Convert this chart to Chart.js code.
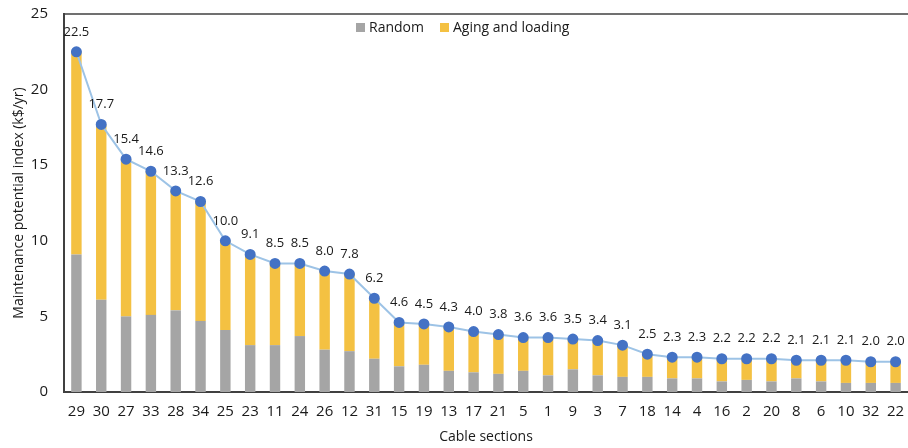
<!DOCTYPE html>
<html>
<head>
<meta charset="utf-8">
<script src="https://cdn.jsdelivr.net/npm/chart.js@4/dist/chart.umd.min.js"></script>
<style>
    html, body { margin: 0; padding: 0; background: #fff; }
    #wrap { width: 908px; height: 448px; }
</style>
</head>
<body>
<div id="wrap"><canvas id="mpiChart"></canvas></div>
<script>
// cable sections, sorted by total index
const sections = ['29', '30', '27', '33', '28', '34', '25', '23', '11', '24', '26', '12', '31', '15', '19', '13', '17',
    '21', '5', '1', '9', '3', '7', '18', '14', '4', '16', '2', '20', '8', '6', '10', '32', '22'];

// total maintenance potential index (k$/yr)
const totals = [22.5, 17.7, 15.4, 14.6, 13.3, 12.6, 10.0, 9.1, 8.5, 8.5, 8.0, 7.8, 6.2, 4.6, 4.5, 4.3, 4.0,
    3.8, 3.6, 3.6, 3.5, 3.4, 3.1, 2.5, 2.3, 2.3, 2.2, 2.2, 2.2, 2.1, 2.1, 2.1, 2.0, 2.0];

// random failure part
const randomPart = [9.1, 6.1, 5.0, 5.1, 5.4, 4.7, 4.1, 3.1, 3.1, 3.7, 2.8, 2.7, 2.2, 1.7, 1.8, 1.4, 1.3,
    1.2, 1.4, 1.1, 1.5, 1.1, 1.0, 1.0, 0.9, 0.9, 0.7, 0.8, 0.7, 0.9, 0.7, 0.6, 0.6, 0.6];

// aging and loading = total - random
const agingPart = totals.map((t, i) => +(t - randomPart[i]).toFixed(1));

const yTicks = [0, 5, 10, 15, 20, 25];

const textColor = '#1a1a1a';
const axisColor = '#404040';
const fontFamily = "'Open Sans', 'Liberation Sans', sans-serif";

// top frame line, legend and point labels
const extras = {
    id: 'extras',
    afterDatasetsDraw(chart) {
        const ctx = chart.ctx;
        const area = chart.chartArea;
        ctx.save();

        // top border of the plot box
        ctx.strokeStyle = axisColor;
        ctx.lineWidth = 1.5;
        ctx.beginPath();
        ctx.moveTo(area.left, area.top);
        ctx.lineTo(area.right, area.top);
        ctx.stroke();

        // value labels above the line points
        const meta = chart.getDatasetMeta(2);
        ctx.fillStyle = textColor;
        ctx.font = "13px " + fontFamily;
        ctx.textAlign = 'center';
        ctx.textBaseline = 'middle';
        meta.data.forEach((pt, i) => {
            ctx.fillText(totals[i].toFixed(1), pt.x, pt.y - 20);
        });

        // legend
        const items = [
            { text: 'Random', color: '#a5a5a5', x: 356 },
            { text: 'Aging and loading', color: '#f4c142', x: 440 }
        ];
        ctx.font = "14px " + fontFamily;
        ctx.textAlign = 'left';
        items.forEach(it => {
            ctx.fillStyle = it.color;
            ctx.fillRect(it.x, 23, 9, 9);
            ctx.fillStyle = textColor;
            ctx.fillText(it.text, it.x + 13, 28);
        });

        ctx.restore();
    }
};

const mpiChart = new Chart(document.getElementById('mpiChart'), {
    data: {
        labels: sections,
        datasets: [{
            type: 'bar',
            label: 'Random',
            data: randomPart,
            backgroundColor: '#a5a5a5',
            stack: 'parts',
            order: 1,
            barPercentage: 0.42,
            categoryPercentage: 1
        }, {
            type: 'bar',
            label: 'Aging and loading',
            data: agingPart,
            backgroundColor: '#f4c142',
            stack: 'parts',
            order: 1,
            barPercentage: 0.42,
            categoryPercentage: 1
        }, {
            type: 'line',
            label: 'Total',
            data: totals,
            stack: 'total',
            order: 0,
            borderColor: '#9dc3e6',
            borderWidth: 2,
            pointBackgroundColor: '#4472c4',
            pointBorderColor: '#4472c4',
            pointRadius: 4.5,
            tension: 0
        }]
    },
    options: {
        responsive: true,
        maintainAspectRatio: false,
        animation: false,
        layout: {
            autoPadding: false,
            padding: { top: 14, right: 0, bottom: 0, left: 0 }
        },
        plugins: {
            legend: { display: false },
            tooltip: { enabled: false }
        },
        scales: {
            x: {
                stacked: true,
                grid: { display: false, drawTicks: false },
                border: { display: true, color: axisColor, width: 2 },
                ticks: {
                    color: textColor,
                    font: { size: 15, family: fontFamily },
                    padding: 11,
                    maxRotation: 0,
                    autoSkip: false
                },
                title: {
                    display: true,
                    text: 'Cable sections',
                    color: textColor,
                    font: { size: 14, family: fontFamily },
                    padding: { top: 0, bottom: 3 }
                },
                afterFit(scale) {
                    scale.height = 56;
                    scale.paddingLeft = 0;
                    scale.paddingRight = 0;
                }
            },
            y: {
                stacked: true,
                min: 0,
                max: 25,
                afterBuildTicks(scale) { scale.ticks = yTicks.map(v => ({ value: v })); },
                grid: { display: false, drawTicks: false },
                border: { display: true, color: axisColor, width: 2 },
                ticks: {
                    color: textColor,
                    font: { size: 15, family: fontFamily },
                    padding: 16
                },
                title: {
                    display: true,
                    text: 'Maintenance potential index (k$/yr)',
                    color: textColor,
                    font: { size: 14, family: fontFamily },
                    padding: { top: 11, bottom: 0 }
                },
                afterFit(scale) {
                    scale.width = 64;
                    scale.paddingTop = 0;
                    scale.paddingBottom = 0;
                }
            }
        }
    },
    plugins: [extras]
});
</script>
</body>
</html>
